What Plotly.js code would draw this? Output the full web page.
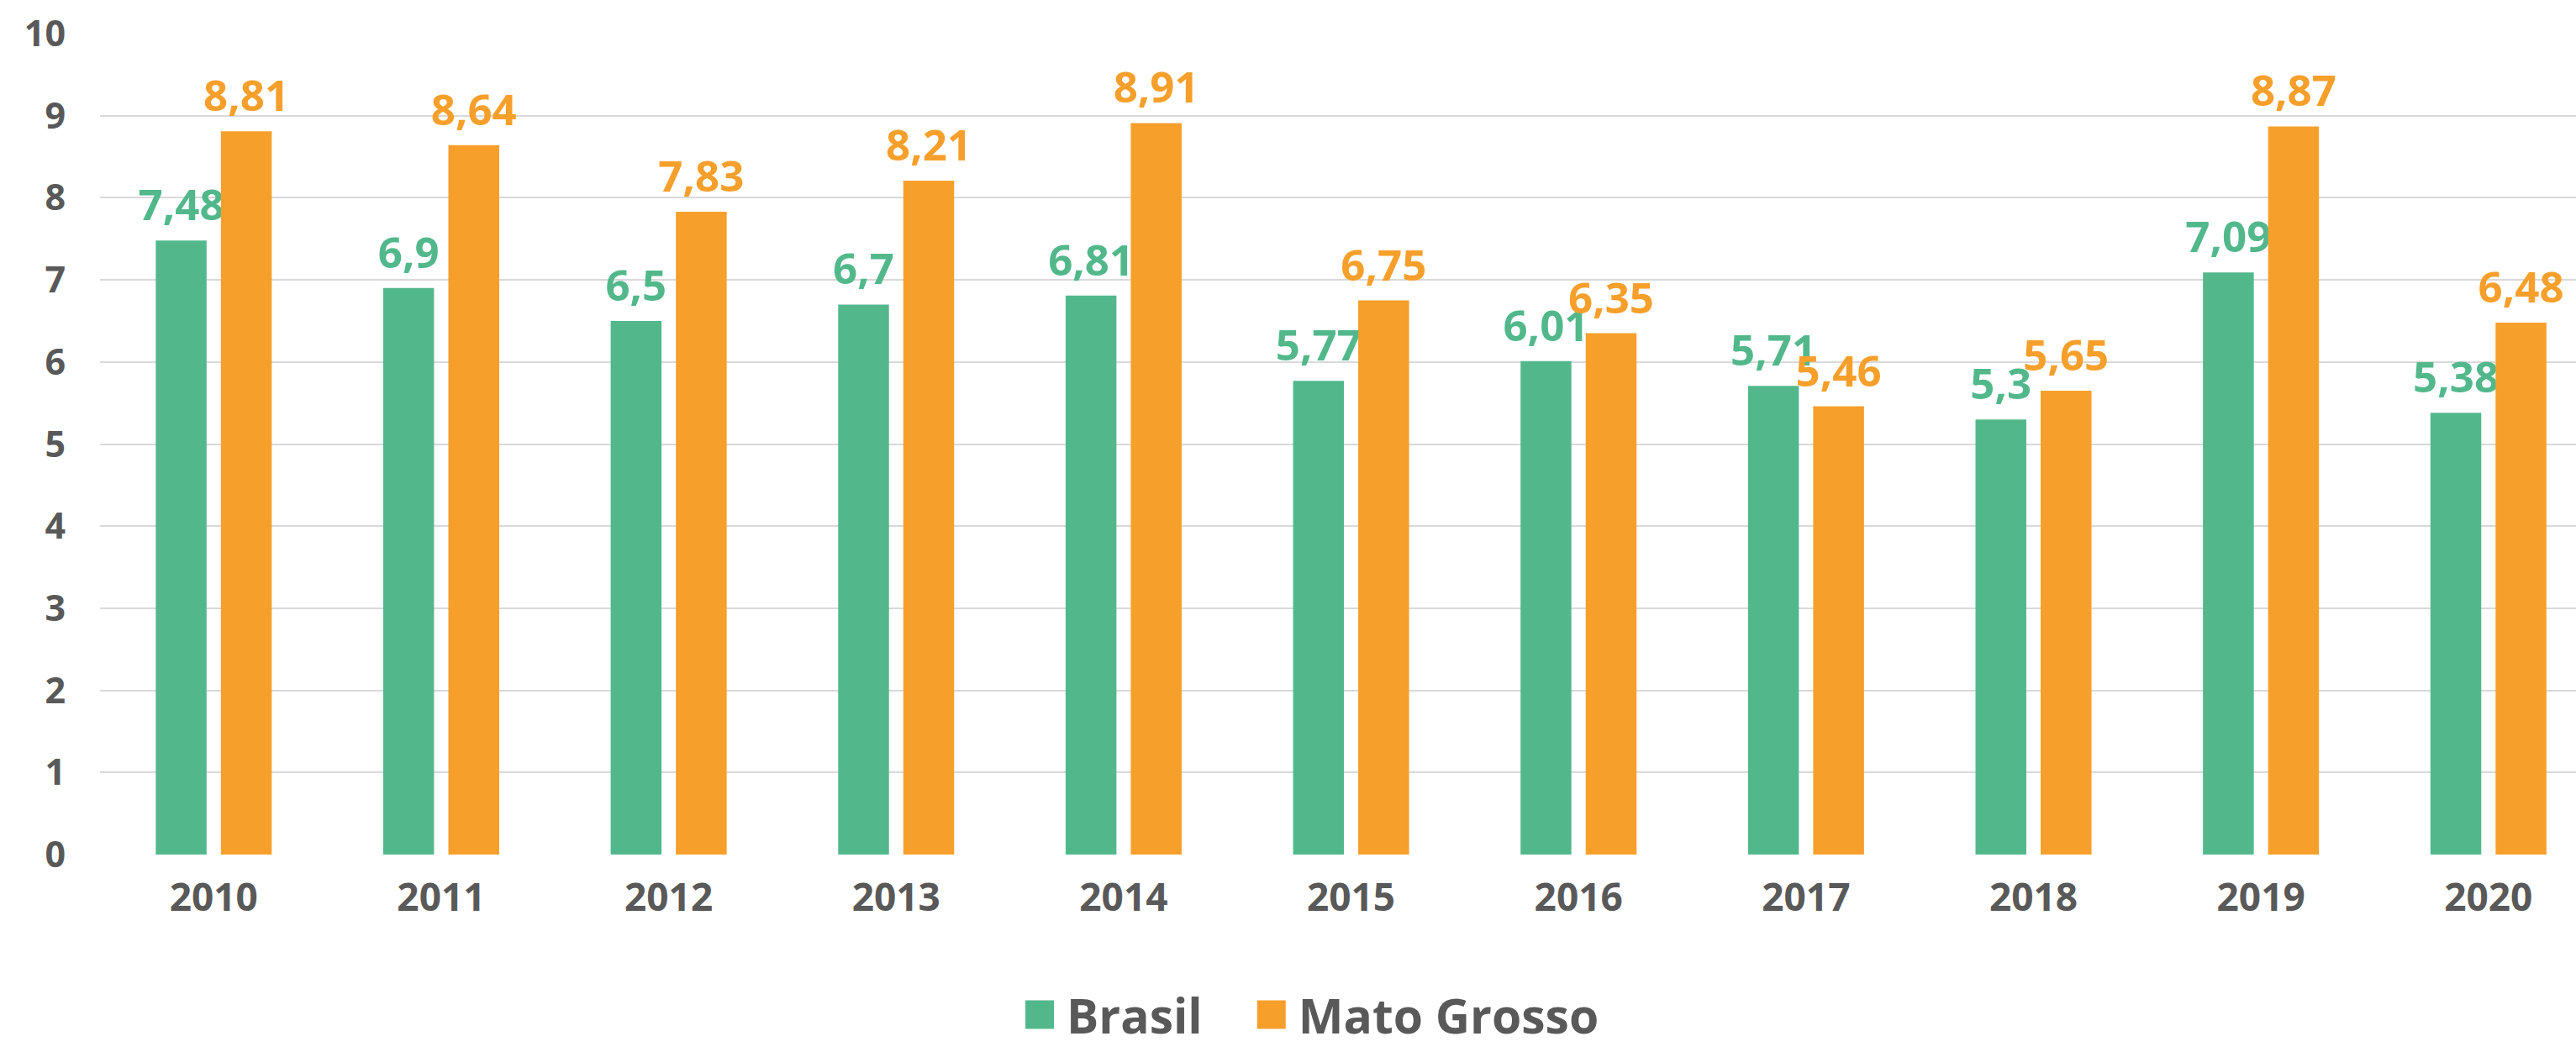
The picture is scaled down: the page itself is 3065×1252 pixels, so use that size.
<!DOCTYPE html>
<html>
<head>
<meta charset="utf-8">
<script src="https://cdn.plot.ly/plotly-3.0.1.min.js"></script>
<style>
html, body { margin: 0; padding: 0; background: #ffffff; overflow: hidden; }
#chart { width: 3065px; height: 1252px; }
</style>
</head>
<body>
<div id="chart"></div>
<script>
const years = ['2010','2011','2012','2013','2014','2015','2016','2017','2018','2019','2020'];
const brasil = [7.48, 6.9, 6.5, 6.7, 6.81, 5.77, 6.01, 5.71, 5.3, 7.09, 5.38];
const matoGrosso = [8.81, 8.64, 7.83, 8.21, 8.91, 6.75, 6.35, 5.46, 5.65, 8.87, 6.48];
const seriesNames = ['Brasil', 'Mato Grosso'];
const yTicks = [0,1,2,3,4,5,6,7,8,9,10];

const GREEN = '#52B88C';
const ORANGE = '#F79F2B';
const GRAY = '#595959';
const FONT = 'Open Sans, Noto Sans, sans-serif';

const fmt = v => String(v).replace('.', ',');

function barTrace(name, values, color) {
  return {
    type: 'bar',
    name: name,
    x: years,
    y: values,
    marker: { color: color, line: { width: 0 } },
    text: values.map(fmt),
    textposition: 'outside',
    constraintext: 'none',
    cliponaxis: false,
    textfont: { family: FONT, size: 51, color: color, weight: 'bold' },
    hoverinfo: 'skip'
  };
}

const data = [
  barTrace(seriesNames[0], brasil, GREEN),
  barTrace(seriesNames[1], matoGrosso, ORANGE)
];

const layout = {
  width: 3065,
  height: 1252,
  margin: { l: 119, r: 0, t: 40, b: 235, pad: 0 },
  paper_bgcolor: '#ffffff',
  plot_bgcolor: '#ffffff',
  barmode: 'group',
  bargap: 0.427,
  bargroupgap: 0.22,
  showlegend: true,
  font: { family: FONT, color: GRAY },
  xaxis: {
    type: 'category',
    range: [-0.5, 10.385],
    showgrid: false,
    zeroline: false,
    showline: false,
    ticks: '',
    tickfont: { family: FONT, size: 46, color: GRAY, weight: 'bold' },
    ticklabelstandoff: 20
  },
  yaxis: {
    range: [0, 10],
    tickvals: yTicks,
    ticktext: yTicks.map(String),
    showgrid: true,
    gridcolor: '#D9D9D9',
    gridwidth: 2,
    zeroline: false,
    showline: false,
    ticks: '',
    tickfont: { family: FONT, size: 43, color: GRAY, weight: 'bold' },
    ticklabelstandoff: 40
  },
  legend: {
    orientation: 'h',
    xref: 'container',
    yref: 'container',
    x: 0.5005,
    xanchor: 'center',
    y: 0,
    yanchor: 'bottom',
    font: { family: FONT, size: 57, color: GRAY, weight: 'bold' },
    itemwidth: 54,
    bgcolor: 'rgba(0,0,0,0)'
  }
};

Plotly.newPlot('chart', data, layout, { staticPlot: true, displayModeBar: false }).then(function (gd) {
  // larger square legend swatches, as in the reference
  gd.querySelectorAll('.legend .legendpoints path').forEach(function (p) {
    p.setAttribute('d', 'M17,17H-17V-17H17Z');
  });
  // wider spacing between the two legend entries
  const items = gd.querySelectorAll('.legend .traces');
  if (items.length > 1) {
    const tr = items[1].getAttribute('transform') || '';
    items[1].setAttribute('transform', 'translate(45,0) ' + tr);
  }
  gd.querySelectorAll('.legend .scrollbox').forEach(function (s) {
    s.removeAttribute('clip-path');
  });
  // lift value labels a little above the bars
  gd.querySelectorAll('.bartext').forEach(function (t) {
    const tr = t.getAttribute('transform') || '';
    t.setAttribute('transform', 'translate(0,-6) ' + tr);
  });
});
</script>
</body>
</html>
